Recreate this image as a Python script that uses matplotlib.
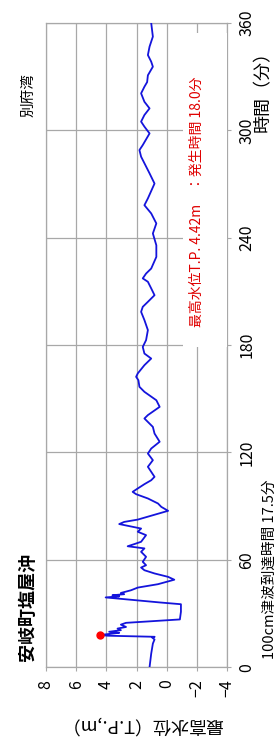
import matplotlib
matplotlib.use("Agg")
import matplotlib.pyplot as plt
from matplotlib.patches import Rectangle

plt.rcParams['font.family'] = ['Noto Sans CJK JP', 'DejaVu Sans']

# water level trace (time in minutes, level in T.P. m)
time_min = [0, 7.6, 13.2, 15.5, 16.6, 17.0, 17.6, 18.0, 18.8, 19.2, 19.8, 20.7,
            21.6, 22.5, 23.8, 24.8, 26.7, 31.0, 35.2, 36.2, 39.0, 39.6, 40.2,
            40.8, 41.5, 43.0, 44.5, 46.4, 48.9, 50.5, 52.4, 54.2, 55.7, 57.0,
            58.9, 61.7, 64.5, 66.4, 67.6, 68.8, 70.1, 73.8, 75.7, 77.5, 80.0,
            81.2, 82.5, 87.4, 89.6, 91.5, 94.3, 96.7, 98.0, 99.9, 102.3, 104.5,
            106.4, 112.0, 115.7, 119.4, 122.2, 126.0, 130.6, 134.3, 139.0,
            140.9, 145.5, 149.2, 153.9, 156.7, 160.4, 162.3, 164.2, 168.8,
            172.5, 175.3, 179.0, 182.8, 188.4, 194.0, 198.6, 201.4, 204.2,
            207.9, 211.7, 215.4, 217.3, 220.0, 222.8, 229.3, 235.8, 242.4,
            248.0, 253.6, 258.2, 262.0, 270.3, 276.0, 285.3, 289.0, 291.8,
            298.3, 302.1, 304.9, 308.6, 312.3, 316.0, 320.7, 324.4, 327.0,
            330.8, 335.6, 338.4, 342.1, 346.8, 352.4, 360.0]
level_m = [1.14, 1.03, 0.92, 0.81, 0.97, 0.80, 3.90, 4.42, 3.60, 3.15, 3.82, 3.04,
           3.26, 2.70, 3.04, 2.70, -0.87, -0.94, -0.94, 0.47, 4.05, 3.15, 3.60,
           2.82, 3.04, 2.37, 1.92, 0.58, -0.50, -0.09, 0.81, 1.48, 1.70, 1.37,
           1.59, 1.37, 1.70, 1.48, 2.59, 2.15, 1.70, 1.37, 1.92, 1.70, 3.15,
           2.82, 1.92, -0.09, 0.36, 0.58, 1.25, 2.03, 2.26, 1.92, 1.48, 1.03,
           0.81, 1.25, 0.92, 1.25, 1.03, 0.47, 0.81, 0.92, 1.48,
           1.25, 0.47, 0.69, 1.48, 1.81, 1.88, 2.03, 1.92, 1.48,
           1.03, 1.48, 1.59, 1.37, 1.25, 1.48, 1.70, 1.59, 1.25,
           0.81, 1.03, 1.25, 1.59, 1.37, 1.03, 0.69, 0.69, 0.92,
           0.69, 1.03, 1.48, 1.25, 0.81, 1.14, 1.70, 1.81, 1.59,
           1.14, 1.48, 1.70, 1.48, 1.14, 1.48, 1.70, 1.48, 1.30,
           1.25, 0.92, 1.03, 1.25, 1.14, 0.92, 1.03]

peak_time = 18.0
peak_level = 4.42
time_ticks = [0, 60, 120, 180, 240, 300, 360]
level_ticks = [8, 6, 4, 2, 0, -2, -4]

grid_col = '#a8a8a8'

fig = plt.figure(figsize=(2.79, 7.43), dpi=100)
ax = fig.add_axes([0.165, 0.102, 0.649, 0.867])

# chart is drawn turned 90 degrees: time runs upward, level runs right-to-left
ax.plot(level_m, time_min, color='#1414dc', lw=1.3, zorder=4)
ax.plot([peak_level], [peak_time], 'o', color='red', ms=5, zorder=5)

ax.set_xlim(8, -4)
ax.set_ylim(0, 360)
ax.set_xticks(level_ticks)
ax.set_yticks(time_ticks)
ax.grid(True, color=grid_col, lw=0.9)
ax.set_axisbelow(True)
for s in ax.spines.values():
    s.set_color(grid_col)
    s.set_linewidth(0.9)

ax.yaxis.tick_right()
ax.tick_params(axis='y', labelrotation=90, length=3, color=grid_col, pad=5,
               labelsize=11.5)
ax.tick_params(axis='x', labelrotation=90, length=3, color=grid_col, pad=6,
               labelsize=11.5)
for lab in ax.get_yticklabels():
    lab.set_verticalalignment('center')

# white box behind the red annotation
ax.add_patch(Rectangle((0.757, 0.497), 0.243, 0.487, transform=ax.transAxes,
                       facecolor='white', edgecolor='none', zorder=3))

fig.text(197/279, 1 - 202/743, '最高水位T.P. 4.42m　：発生時間 18.0分',
         color='#e00000', rotation=90, fontsize=10, ha='center', va='center')

fig.text(27/279, 1 - 607/743, '安岐町塩屋沖', rotation=90, fontsize=13,
         fontweight='bold', ha='center', va='center')
fig.text(28/279, 1 - 95/743, '別府湾', rotation=90, fontsize=10.5,
         ha='center', va='center')
fig.text(263/279, 1 - 87/743, '時間（分）', rotation=90, fontsize=13,
         ha='center', va='center')
fig.text(270/279, 1 - 569/743, '100cm津波到達時間 17.5分', rotation=90,
         fontsize=10.5, ha='center', va='center')
fig.text(142/279, 1 - 725/743, '最高水位（T.P.,m）', rotation=180, fontsize=13,
         ha='center', va='center')

fig.savefig('out.png', dpi=100)
